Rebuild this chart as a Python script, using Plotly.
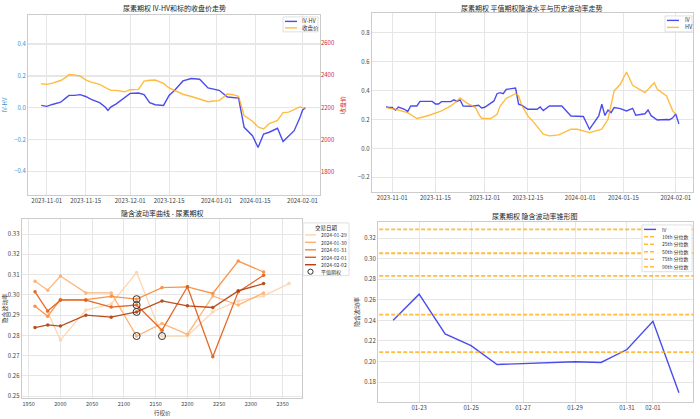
import plotly.graph_objects as go

FONT = "Noto Sans CJK SC"
W, H = 700, 419

# ---------------- top-left: IV-HV and close ----------------
tl_dates = ["2023-10-30", "2023-11-01", "2023-11-03", "2023-11-06", "2023-11-08", "2023-11-09",
            "2023-11-11", "2023-11-13", "2023-11-15", "2023-11-17", "2023-11-20", "2023-11-22",
            "2023-11-23", "2023-11-24", "2023-11-26", "2023-11-29", "2023-12-01", "2023-12-04",
            "2023-12-06", "2023-12-08", "2023-12-10", "2023-12-13", "2023-12-15", "2023-12-17",
            "2023-12-20", "2023-12-23", "2023-12-26", "2023-12-29", "2023-12-31", "2024-01-02",
            "2024-01-05", "2024-01-07", "2024-01-09", "2024-01-11", "2024-01-14", "2024-01-16",
            "2024-01-18", "2024-01-20", "2024-01-23", "2024-01-25", "2024-01-27", "2024-01-29",
            "2024-01-31", "2024-02-01", "2024-02-02"]
tl_ivhv = [0.015, 0.009, 0.021, 0.035, 0.064, 0.078, 0.078, 0.083, 0.071, 0.053, 0.032, 0.005,
           -0.017, 0.004, 0.025, 0.068, 0.091, 0.093, 0.083, 0.032, 0.019, 0.015, 0.078, 0.11,
           0.169, 0.184, 0.18, 0.125, 0.118, 0.11, 0.068, 0.064, 0.061, -0.123, -0.176, -0.25,
           -0.165, -0.154, -0.129, -0.212, -0.176, -0.144, -0.065, -0.015, 0.0]
tl_close = [2348, 2344, 2352, 2368, 2389, 2405, 2403, 2395, 2372, 2358, 2344, 2327, 2315, 2307,
            2307, 2298, 2311, 2313, 2364, 2370, 2371, 2350, 2322, 2305, 2283, 2269, 2251, 2236,
            2241, 2243, 2284, 2280, 2270, 2150, 2115, 2080, 2067, 2100, 2120, 2169, 2172, 2186,
            2204, 2200, 2197]

# ---------------- top-right: IV and HV ----------------
iv_dates = ["2023-10-30", "2023-10-31", "2023-11-01", "2023-11-02", "2023-11-03", "2023-11-05",
            "2023-11-06", "2023-11-07", "2023-11-09", "2023-11-10", "2023-11-14", "2023-11-15",
            "2023-11-16", "2023-11-17", "2023-11-20", "2023-11-21", "2023-11-22", "2023-11-23",
            "2023-11-24", "2023-11-27", "2023-11-29", "2023-11-30", "2023-12-01", "2023-12-04",
            "2023-12-05", "2023-12-06", "2023-12-07", "2023-12-08", "2023-12-11", "2023-12-12",
            "2023-12-13", "2023-12-15", "2023-12-18", "2023-12-19", "2023-12-20", "2023-12-22",
            "2023-12-26", "2023-12-29", "2024-01-02", "2024-01-04", "2024-01-07", "2024-01-08",
            "2024-01-09", "2024-01-10", "2024-01-11", "2024-01-12", "2024-01-14", "2024-01-16",
            "2024-01-18", "2024-01-19", "2024-01-22", "2024-01-23", "2024-01-24", "2024-01-25",
            "2024-01-26", "2024-01-29", "2024-01-30", "2024-01-31", "2024-02-01", "2024-02-02"]
iv_values = [0.29, 0.283, 0.283, 0.265, 0.287, 0.271, 0.255, 0.294, 0.294, 0.326, 0.326, 0.308,
             0.308, 0.324, 0.324, 0.336, 0.326, 0.336, 0.294, 0.292, 0.299, 0.28, 0.285, 0.329,
             0.379, 0.386, 0.379, 0.409, 0.418, 0.306, 0.299, 0.271, 0.271, 0.287, 0.262, 0.294,
             0.294, 0.225, 0.221, 0.133, 0.225, 0.306, 0.228, 0.265, 0.248, 0.283, 0.276, 0.26,
             0.278, 0.23, 0.24, 0.266, 0.227, 0.215, 0.197, 0.2, 0.199, 0.212, 0.239, 0.17]
hv_dates = ["2023-10-30", "2023-11-02", "2023-11-06", "2023-11-09", "2023-11-11", "2023-11-13",
            "2023-11-17", "2023-11-20", "2023-11-22", "2023-11-23", "2023-11-25", "2023-11-28",
            "2023-11-29", "2023-11-30", "2023-12-03", "2023-12-05", "2023-12-06", "2023-12-08",
            "2023-12-11", "2023-12-12", "2023-12-13", "2023-12-15", "2023-12-17", "2023-12-20",
            "2023-12-22", "2023-12-25", "2023-12-29", "2023-12-31", "2024-01-04", "2024-01-08",
            "2024-01-10", "2024-01-12", "2024-01-14", "2024-01-16", "2024-01-18", "2024-01-22",
            "2024-01-25", "2024-01-26", "2024-01-29", "2024-01-31", "2024-02-01"]
hv_values = [0.283, 0.271, 0.248, 0.207, 0.218, 0.23, 0.26, 0.294, 0.329, 0.349, 0.317, 0.283,
             0.241, 0.207, 0.207, 0.237, 0.294, 0.347, 0.379, 0.363, 0.299, 0.225, 0.179, 0.099,
             0.087, 0.094, 0.133, 0.133, 0.11, 0.133, 0.202, 0.398, 0.444, 0.529, 0.437, 0.386,
             0.455, 0.409, 0.363, 0.26, 0.237]

# ---------------- bottom-left: smile curves ----------------
smile_dates = ["2024-01-29", "2024-01-30", "2024-01-31", "2024-02-01", "2024-02-02"]
strikes_0129 = [1980, 2000, 2040, 2080, 2120, 2160, 2200, 2240, 2280, 2320, 2360]
iv_0129 = [0.2915, 0.2777, 0.2925, 0.2955, 0.311, 0.2797, 0.2797, 0.2917, 0.297, 0.2995, 0.3056]
strikes_0130 = [1960, 1980, 2000, 2040, 2080, 2120, 2160, 2200, 2240, 2280, 2320]
iv_0130 = [0.3067, 0.3023, 0.3093, 0.301, 0.301, 0.2797, 0.2859, 0.2805, 0.2995, 0.295, 0.301]
strikes_0131 = [1960, 1980, 2000, 2040, 2080, 2120, 2160, 2200, 2240, 2280, 2320]
iv_0131 = [0.2944, 0.2895, 0.2977, 0.2977, 0.2993, 0.2979, 0.3036, 0.304, 0.3007, 0.3167, 0.3113]
strikes_0201 = [1960, 1980, 2000, 2040, 2080, 2120, 2160, 2200, 2240, 2280, 2320]
iv_0201 = [0.3015, 0.292, 0.2974, 0.2974, 0.294, 0.295, 0.2826, 0.304, 0.2695, 0.3015, 0.3097]
strikes_0202 = [1960, 1980, 2000, 2040, 2080, 2120, 2160, 2200, 2240, 2280, 2320]
iv_0202 = [0.2839, 0.2852, 0.2846, 0.290, 0.289, 0.2916, 0.297, 0.2946, 0.2938, 0.302, 0.3056]
atm_strikes = [2160, 2120, 2120, 2120, 2120]
atm_iv = [0.2797, 0.2797, 0.2979, 0.295, 0.2916]
smile_colors = ["#fdd3aa", "#fdae6b", "#f98a38", "#e25a12", "#b23d0a"]

# ---------------- bottom-right: IV cone ----------------
cone_dates = ["2024-01-22", "2024-01-23", "2024-01-24", "2024-01-25", "2024-01-26",
              "2024-01-29", "2024-01-30", "2024-01-31", "2024-02-01", "2024-02-02"]
cone_iv = [0.2401, 0.2656, 0.2269, 0.2155, 0.1971, 0.1998, 0.1991, 0.2117, 0.2391, 0.1697]
pct_labels = ["10th 分位数", "25th 分位数", "50th 分位数", "75th 分位数", "90th 分位数"]
pct_values = [0.2091, 0.2456, 0.2834, 0.3054, 0.3286]
cone_ticks = ["2024-01-23", "2024-01-25", "2024-01-27", "2024-01-29", "2024-01-31", "2024-02-01"]

BLUE = "rgba(0,0,230,0.7)"
ORANGE = "rgba(255,165,0,0.75)"
GRID = "#e6e6e6"
FRAME = "#cccccc"
TICKF = dict(family=FONT, size=6, color="#444")
PCT_DASH = "4px,2px"

fig = go.Figure()

fig.add_trace(go.Scatter(x=tl_dates, y=tl_ivhv, mode="lines", name="IV-HV",
                         line=dict(color=BLUE, width=1.4), xaxis="x", yaxis="y"))
fig.add_trace(go.Scatter(x=tl_dates, y=tl_close, mode="lines", name="收盘价",
                         line=dict(color=ORANGE, width=1.4), xaxis="x", yaxis="y5"))
fig.add_trace(go.Scatter(x=iv_dates, y=iv_values, mode="lines", name="IV",
                         line=dict(color=BLUE, width=1.4), xaxis="x2", yaxis="y2"))
fig.add_trace(go.Scatter(x=hv_dates, y=hv_values, mode="lines", name="HV",
                         line=dict(color=ORANGE, width=1.4), xaxis="x2", yaxis="y2"))
smile_x = [strikes_0129, strikes_0130, strikes_0131, strikes_0201, strikes_0202]
smile_y = [iv_0129, iv_0130, iv_0131, iv_0201, iv_0202]
for d, sx, sy, c in zip(smile_dates, smile_x, smile_y, smile_colors):
    fig.add_trace(go.Scatter(x=sx, y=sy, mode="lines+markers", name=d, opacity=0.9,
                             line=dict(color=c, width=1.3), marker=dict(color=c, size=3.5),
                             xaxis="x3", yaxis="y3"))
fig.add_trace(go.Scatter(x=atm_strikes, y=atm_iv, mode="markers", name="平值期权",
                         marker=dict(symbol="circle-open", size=7, color="#333",
                                     line=dict(width=1, color="#333")),
                         xaxis="x3", yaxis="y3"))
fig.add_trace(go.Scatter(x=cone_dates, y=cone_iv, mode="lines", name="IV",
                         line=dict(color=BLUE, width=1.4), xaxis="x4", yaxis="y4"))
for lab, v in zip(pct_labels, pct_values):
    fig.add_trace(go.Scatter(x=["2024-01-21", "2024-02-03"], y=[v, v], mode="lines", name=lab,
                             line=dict(color=ORANGE, width=1.8, dash=PCT_DASH),
                             xaxis="x4", yaxis="y4"))


def ax(**kw):
    base = dict(showgrid=True, gridcolor=GRID, gridwidth=1, zeroline=False, showline=True,
                linecolor=FRAME, mirror=True, ticks="", tickfont=TICKF)
    base.update(kw)
    return base


shapes = []
annotations = []


def px(x, y):
    return x / W, 1 - y / H


def legend_box(x0, y0, x1, y1, rows, sym_x0, sym_x1, text_x, title=None, fs=5.5):
    a, b = px(x0, y0)
    c, d = px(x1, y1)
    shapes.append(dict(type="rect", xref="paper", yref="paper", x0=a, y0=d, x1=c, y1=b,
                       fillcolor="rgba(255,255,255,0.9)", line=dict(color="#d8d8d8", width=0.8),
                       layer="above"))
    if title:
        tx, ty = px(title[1], title[2])
        annotations.append(dict(text=title[0], x=tx, y=ty, xref="paper", yref="paper",
                                showarrow=False, xanchor="center", yanchor="middle",
                                font=dict(family=FONT, size=fs + 0.5, color="#222")))
    for label, yy, style in rows:
        sx0, sy = px(sym_x0, yy)
        sx1, _ = px(sym_x1, yy)
        if style.get("marker"):
            mx, _ = px((sym_x0 + sym_x1) / 2, yy)
            r = 2.6
            shapes.append(dict(type="circle", xref="paper", yref="paper",
                               x0=mx - r / W, x1=mx + r / W, y0=sy - r / H, y1=sy + r / H,
                               line=dict(color="#333", width=1), layer="above"))
        else:
            shapes.append(dict(type="line", xref="paper", yref="paper", x0=sx0, x1=sx1,
                               y0=sy, y1=sy, layer="above",
                               line=dict(color=style["color"], width=style.get("width", 1.4),
                                         dash=style.get("dash", "solid"))))
        tx, _ = px(text_x, yy)
        annotations.append(dict(text=label, x=tx, y=sy, xref="paper", yref="paper",
                                showarrow=False, xanchor="left", yanchor="middle",
                                font=dict(family=FONT, size=fs, color="#333")))


legend_box(283, 17, 318, 32, [("IV-HV", 21.5, dict(color=BLUE)), ("收盘价", 28, dict(color=ORANGE))],
           285, 297, 300)
legend_box(665, 16, 692, 32, [("IV", 20.5, dict(color=BLUE)), ("HV", 27.5, dict(color=ORANGE))],
           667, 679, 683)
legend_box(303, 224, 349, 277,
           [(d, yy, dict(color=c)) for d, yy, c in zip(smile_dates, [236, 243.5, 251, 258.5, 266],
                                                       smile_colors)]
           + [("平值期权", 273, dict(marker=True))],
           305, 316, 319, title=("交易日期", 326, 229), fs=5)
legend_box(642, 226, 692, 273,
           [("IV", 230.5, dict(color=BLUE))]
           + [(lab, yy, dict(color=ORANGE, dash=PCT_DASH, width=1.5))
              for lab, yy in zip(pct_labels, [238, 245.5, 253, 260.5, 268])],
           644, 656, 660, fs=5)

titles = [("尿素期权 IV-HV和标的收盘价走势", 174, 8.5),
          ("尿素期权 平值期权隐波水平与历史波动率走势", 532, 8.5),
          ("隐含波动率曲线 - 尿素期权", 162, 214),
          ("尿素期权 隐含波动率锥形图", 535, 217)]
for t, x, y in titles:
    a, b = px(x, y)
    annotations.append(dict(text=t, x=a, y=b, xref="paper", yref="paper", showarrow=False,
                            xanchor="center", yanchor="middle", font=dict(family=FONT, size=7,
                                                                           color="#222")))
a, b = px(162, 414.5)
annotations.append(dict(text="行权价", x=a, y=b, xref="paper", yref="paper", showarrow=False,
                        xanchor="center", yanchor="middle", font=dict(family=FONT, size=5.5,
                                                                       color="#333")))

fig.update_layout(
    width=W, height=H, margin=dict(l=0, r=0, t=0, b=0), showlegend=False,
    paper_bgcolor="white", plot_bgcolor="white",
    font=dict(family=FONT, size=6, color="#333"),
    xaxis=ax(domain=[0.04, 0.457], anchor="y", range=["2023-10-25 06:00", "2024-02-07 06:00"],
             tickvals=["2023-11-01", "2023-11-15", "2023-12-01", "2023-12-15", "2024-01-01",
                       "2024-01-15", "2024-02-01"], tickformat="%Y-%m-%d"),
    yaxis=ax(domain=[0.532, 0.964], anchor="x", range=[-0.55, 0.584],
             tickvals=[-0.4, -0.2, 0.0, 0.2, 0.4], tickformat=".1f",
             tickfont=dict(family=FONT, size=6, color="#3a8fd0"),
             title=dict(text="IV-HV", font=dict(family=FONT, size=6, color="#3a8fd0"), standoff=6)),
    yaxis5=ax(overlaying="y", side="right", anchor="x", range=[1656, 2775],
              tickvals=[1800, 2000, 2200, 2400, 2600], mirror=False, showline=False,
              tickfont=dict(family=FONT, size=6, color="#d62728"),
              title=dict(text="收盘价", font=dict(family=FONT, size=6, color="#d62728"), standoff=6)),
    xaxis2=ax(domain=[0.531, 0.99], anchor="y2", range=["2023-10-25 08:00", "2024-02-06 14:00"],
              tickvals=["2023-11-01", "2023-11-15", "2023-12-01", "2023-12-15", "2024-01-01",
                        "2024-01-15", "2024-02-01"], tickformat="%Y-%m-%d"),
    yaxis2=ax(domain=[0.539, 0.969], anchor="x2", range=[-0.303, 0.938],
              tickvals=[-0.2, 0.0, 0.2, 0.4, 0.6, 0.8], tickformat=".1f"),
    xaxis3=ax(domain=[0.031, 0.431], anchor="y3", range=[1939, 2380],
              tickvals=[1950, 2000, 2050, 2100, 2150, 2200, 2250, 2300, 2350],
              tickfont=dict(family=FONT, size=5.5, color="#444")),
    yaxis3=ax(domain=[0.045, 0.475], anchor="x3", range=[0.249, 0.3375],
              tickvals=[0.25, 0.26, 0.27, 0.28, 0.29, 0.30, 0.31, 0.32, 0.33], tickformat=".2f",
              title=dict(text="隐含波动率", font=dict(family=FONT, size=6), standoff=4)),
    xaxis4=ax(domain=[0.54, 0.99], anchor="y4", range=["2024-01-21 10:00", "2024-02-02 13:00"],
              tickvals=cone_ticks, tickformat="%m-%d"),
    yaxis4=ax(domain=[0.036, 0.468], anchor="x4", range=[0.1606, 0.336],
              tickvals=[0.18, 0.20, 0.22, 0.24, 0.26, 0.28, 0.30, 0.32], tickformat=".2f",
              title=dict(text="隐含波动率", font=dict(family=FONT, size=6), standoff=4)),
    shapes=shapes,
    annotations=annotations,
)

fig.write_html("out.html", config={"displayModeBar": False},
               post_script="document.body.style.margin='0';document.body.style.overflow='hidden';")
